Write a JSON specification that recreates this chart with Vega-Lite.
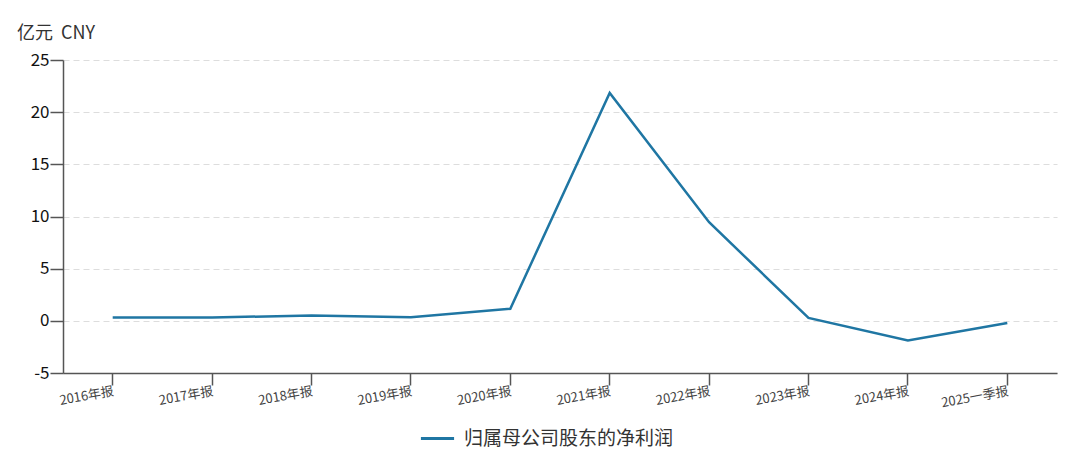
{
  "$schema": "https://vega.github.io/schema/vega-lite/v6.json",
  "width": 994,
  "height": 313,
  "autosize": {"type": "none"},
  "padding": {"left": 63, "top": 60, "right": 23, "bottom": 96},
  "background": "#ffffff",
  "title": {
    "text": "亿元\u00a0\u00a0CNY",
    "anchor": "start",
    "frame": "group",
    "dx": -46,
    "offset": 8,
    "fontSize": 18,
    "fontWeight": "normal",
    "font": "Noto Sans CJK SC",
    "color": "#333333"
  },
  "data": {
    "values": [
      {"period": "2016年报", "series": "归属母公司股东的净利润", "value": 0.31},
      {"period": "2017年报", "series": "归属母公司股东的净利润", "value": 0.33},
      {"period": "2018年报", "series": "归属母公司股东的净利润", "value": 0.5},
      {"period": "2019年报", "series": "归属母公司股东的净利润", "value": 0.35},
      {"period": "2020年报", "series": "归属母公司股东的净利润", "value": 1.15},
      {"period": "2021年报", "series": "归属母公司股东的净利润", "value": 21.85},
      {"period": "2022年报", "series": "归属母公司股东的净利润", "value": 9.45},
      {"period": "2023年报", "series": "归属母公司股东的净利润", "value": 0.28},
      {"period": "2024年报", "series": "归属母公司股东的净利润", "value": -1.88},
      {"period": "2025一季报", "series": "归属母公司股东的净利润", "value": -0.2}
    ]
  },
  "mark": {"type": "line", "strokeWidth": 2.5, "interpolate": "linear"},
  "encoding": {
    "x": {
      "field": "period",
      "type": "ordinal",
      "sort": null,
      "scale": {"type": "band", "paddingInner": 0, "paddingOuter": 0},
      "axis": {
        "title": null,
        "labelAngle": -10,
        "labelAlign": "right",
        "labelBaseline": "top",
        "labelFontSize": 13,
        "labelColor": "#444444",
        "labelFont": "Noto Sans CJK SC",
        "labelPadding": 0,
        "tickSize": 12,
        "tickColor": "#555555",
        "domainColor": "#555555",
        "domainWidth": 1.5,
        "tickWidth": 1.5,
        "grid": false
      }
    },
    "y": {
      "field": "value",
      "type": "quantitative",
      "scale": {"domain": [-5, 25], "nice": false, "zero": false},
      "axis": {
        "title": null,
        "values": [-5, 0, 5, 10, 15, 20, 25],
        "labelExpr": "replace(datum.label, '\u2212', '-')",
        "labelFontSize": 17,
        "labelColor": "#111111",
        "labelFont": "Noto Sans CJK SC",
        "labelPadding": 1,
        "tickSize": 13,
        "tickColor": "#555555",
        "domainColor": "#555555",
        "domainWidth": 1.5,
        "tickWidth": 1.5,
        "grid": true,
        "gridColor": "#dddddd",
        "gridDash": [6, 4],
        "gridWidth": 1
      }
    },
    "color": {
      "field": "series",
      "type": "nominal",
      "scale": {"range": ["#1f76a3"]},
      "legend": {
        "title": null,
        "orient": "none",
        "legendX": 356,
        "legendY": 360,
        "symbolType": "stroke",
        "symbolSize": 1100,
        "symbolStrokeWidth": 3,
        "labelFontSize": 19,
        "labelFont": "Noto Sans CJK SC",
        "labelColor": "#333333",
        "labelOffset": 8,
        "labelLimit": 400
      }
    }
  },
  "config": {
    "view": {"stroke": null},
    "font": "Noto Sans CJK SC"
  }
}
